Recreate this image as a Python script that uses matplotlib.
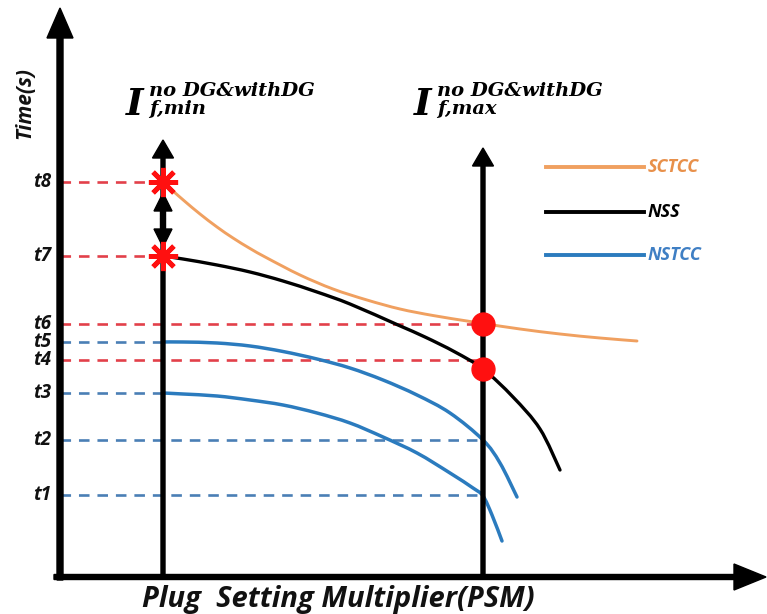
import matplotlib
matplotlib.use("Agg")
import matplotlib.pyplot as plt
from matplotlib.path import Path
from matplotlib.patches import PathPatch

# ---------------- data (schematic units, origin at axes corner) ----------------
time_labels = ['t1', 't2', 't3', 't4', 't5', 't6', 't7', 't8']
time_levels = [82, 137, 184, 217, 235, 253, 321, 395]
time_colors = ['blue', 'blue', 'blue', 'red', 'blue', 'red', 'red', 'red']
time_reach = ['max', 'max', 'min', 'max', 'min', 'max', 'min', 'min']

psm_min = 103
psm_max = 423

sctcc_x = [103, 113, 125, 140, 157, 173, 190, 207, 240, 273, 307, 340, 373, 407, 423, 460, 500, 540, 577]
sctcc_y = [395, 386, 375.5, 363, 350, 339, 328.5, 319, 302, 288, 277, 268, 261.5, 256, 253.5, 248, 243, 239, 236]

nss_x = [103, 123, 157, 190, 223, 257, 290, 338, 365, 395, 423, 453, 480, 500]
nss_y = [321, 318, 312, 305, 296, 285, 273, 252, 240, 225, 208, 180, 148, 107]

nstcc1_x = [103, 123, 157, 190, 223, 257, 290, 323, 357, 390, 423, 440, 457]
nstcc1_y = [235, 235, 234, 231, 225.5, 218, 209, 197, 182, 164, 137, 114, 80]

nstcc2_x = [103, 123, 157, 190, 223, 257, 290, 323, 357, 390, 413, 423, 432, 442]
nstcc2_y = [184, 183, 181, 177, 172, 164, 154, 140, 124, 104, 89, 81, 62, 36]

legend_names = ['SCTCC', 'NSS', 'NSTCC']
xlabel_text = 'Plug  Setting Multiplier(PSM)'
ylabel_text = 'Time(s)'

# ---------------- styles ----------------
C_ORANGE = '#F0A060'
C_ORANGE_TXT = '#E8904A'
C_BLUE = '#2B7BBE'
C_BLUE_TXT = '#3F7FC4'
C_RED_DASH = '#E2404A'
C_BLUE_DASH = '#4A7FB5'
C_RED = '#FF1010'
SANS = 'Open Sans'
SERIF = 'DejaVu Serif'


def smooth_curve(ax, xs, ys, **kw):
    """Draw a smooth (Catmull-Rom as cubic Bezier) line through the read points."""
    pts = list(zip(xs, ys))
    n = len(pts)
    verts = [pts[0]]
    codes = [Path.MOVETO]
    for i in range(n - 1):
        p0 = pts[i - 1] if i > 0 else pts[i]
        p1 = pts[i]
        p2 = pts[i + 1]
        p3 = pts[i + 2] if i + 2 < n else pts[i + 1]
        c1 = (p1[0] + (p2[0] - p0[0]) / 6, p1[1] + (p2[1] - p0[1]) / 6)
        c2 = (p2[0] - (p3[0] - p1[0]) / 6, p2[1] - (p3[1] - p1[1]) / 6)
        verts += [c1, c2, p2]
        codes += [Path.CURVE4] * 3
    ax.add_patch(PathPatch(Path(verts, codes), fill=False, capstyle='round', **kw))


fig = plt.figure(figsize=(7.67, 6.14), dpi=100)
ax = fig.add_axes([0, 0, 1, 1])
ax.set_xlim(-60, 707)
ax.set_ylim(-37, 577)
ax.axis('off')

# dashed reference lines
for lvl, col, reach in zip(time_levels, time_colors, time_reach):
    xe = psm_max if reach == 'max' else psm_min
    ax.plot([0, xe], [lvl, lvl], color=C_RED_DASH if col == 'red' else C_BLUE_DASH,
            lw=1.9, dashes=(4, 3), zorder=2)

# tick labels
for lab, lvl in zip(time_labels, time_levels):
    ax.text(-9, lvl, lab, ha='right', va='center', fontsize=13.5, fontweight='bold',
            fontstyle='italic', family=SANS, color='#111111')

# axes arrows
ax.arrow(0, -3, 0, 572, width=6, head_width=26, head_length=30,
         length_includes_head=True, color='black', zorder=5)
ax.arrow(-6, 0, 712, 0, width=5, head_width=26, head_length=32,
         length_includes_head=True, color='black', zorder=5)
ax.arrow(psm_min, 0, 0, 437, width=4, head_width=21, head_length=18,
         length_includes_head=True, color='black', zorder=4)
ax.arrow(psm_max, 0, 0, 429, width=4, head_width=21, head_length=18,
         length_includes_head=True, color='black', zorder=4)

# double arrow between t8 and t7
mid = (time_levels[6] + time_levels[7]) / 2
ax.arrow(psm_min, mid, 0, time_levels[7] - 11 - mid, width=5, head_width=18, head_length=18,
         length_includes_head=True, color='black', zorder=6)
ax.arrow(psm_min, mid, 0, time_levels[6] + 9 - mid, width=5, head_width=18, head_length=18,
         length_includes_head=True, color='black', zorder=6)

# curves
smooth_curve(ax, sctcc_x, sctcc_y, edgecolor=C_ORANGE, lw=2.1, zorder=3)
smooth_curve(ax, nss_x, nss_y, edgecolor='black', lw=2.4, zorder=3)
smooth_curve(ax, nstcc1_x, nstcc1_y, edgecolor=C_BLUE, lw=2.5, zorder=3)
smooth_curve(ax, nstcc2_x, nstcc2_y, edgecolor=C_BLUE, lw=2.5, zorder=3)

# markers
ax.plot([psm_min, psm_min], [time_levels[7], time_levels[6]], ls='none',
        marker=(8, 2, 0), ms=21, mew=3.5, color=C_RED, zorder=7)
ax.plot([psm_max, psm_max], [time_levels[5], nss_y[nss_x.index(psm_max)]], ls='none',
        marker='o', ms=16.5, color=C_RED, mec=C_RED, zorder=7)

# legend (manual)
leg_y = [410, 365, 322]
leg_cols = [C_ORANGE, 'black', C_BLUE]
leg_txt_cols = [C_ORANGE_TXT, 'black', C_BLUE_TXT]
for name, yy, col, tcol in zip(legend_names, leg_y, leg_cols, leg_txt_cols):
    ax.plot([486, 584], [yy, yy], color=col, lw=2.8, zorder=3)
    ax.text(588, yy, name, ha='left', va='center', fontsize=13, fontweight='bold',
            fontstyle='italic', family=SANS, color=tcol)

# I labels
for x0, sub in [(66, 'f,min'), (354, 'f,max')]:
    ax.text(x0, 462, 'I', ha='left', va='baseline', fontsize=27, fontweight='bold',
            fontstyle='italic', family=SERIF)
    ax.text(x0 + 23, 481, 'no DG&withDG', ha='left', va='baseline', fontsize=14,
            fontweight='bold', fontstyle='italic', family=SERIF)
    ax.text(x0 + 23, 463, sub, ha='left', va='baseline', fontsize=14,
            fontweight='bold', fontstyle='italic', family=SERIF)

# axis titles
ax.text(278, -22, xlabel_text, ha='center', va='center', fontsize=21, fontweight='bold',
        fontstyle='italic', family=SANS, color='#111111')
ax.text(-35, 474, ylabel_text, ha='center', va='center', rotation=90, fontsize=15,
        fontweight='bold', fontstyle='italic', family=SANS, color='#111111')

fig.savefig('out.png', dpi=100)
